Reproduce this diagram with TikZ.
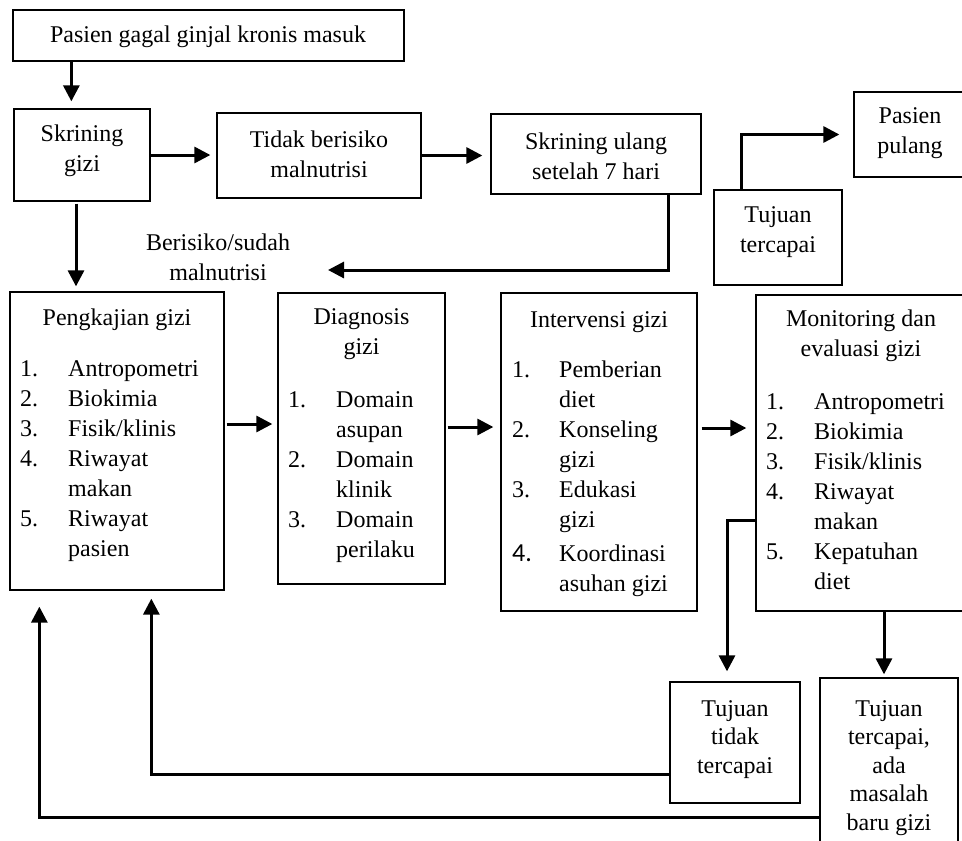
\documentclass[tikz,border=0pt]{standalone}
\usepackage{fontspec}
\setmainfont{Liberation Serif}
\newfontfamily\carl{Carlito}
\usetikzlibrary{arrows.meta}
\tikzset{
  box/.style={draw, line width=1.3pt, inner sep=0pt, rectangle},
  txt/.style={inner sep=0pt, align=center, font=\fontsize{24}{30}\selectfont},
  txtb/.style={inner sep=0pt, align=center, font=\fontsize{24}{28.5}\selectfont},
  lst/.style={inner sep=0pt, anchor=base west, font=\fontsize{24}{30}\selectfont},
  arr/.style={line width=3pt, -{Triangle[length=16pt,width=16pt]}},
}
\begin{document}
\begin{tikzpicture}[x=1pt,y=-1pt]
\useasboundingbox (0,0) rectangle (962,841);
% boxes
\node[box, minimum width=391pt, minimum height=51pt] (top) at (208.5,35.5) {};
\node[box, minimum width=136pt, minimum height=92pt] (skr) at (82,155) {};
\node[box, minimum width=204pt, minimum height=85pt] (tidak) at (319,155.5) {};
\node[box, minimum width=210pt, minimum height=80pt] (ulang) at (596,154) {};
\node[box, minimum width=128pt, minimum height=95pt] (tc) at (778,237.5) {};
\node[box, minimum width=112pt, minimum height=85pt] (pulang) at (910,134.5) {};
\node[box, minimum width=214pt, minimum height=298pt] (peng) at (117,441) {};
\node[box, minimum width=167pt, minimum height=291pt] (diag) at (361.5,438.5) {};
\node[box, minimum width=196pt, minimum height=318pt] (interv) at (599,452) {};
\node[box, minimum width=210pt, minimum height=316pt] (mon) at (861,453) {};
\node[box, minimum width=130pt, minimum height=121pt] (ttc) at (735,742.5) {};
\node[box, minimum width=138pt, minimum height=180pt] (tca) at (889,768) {};
% simple texts
\node[txt] (topt) at (208,37) {Pasien gagal ginjal kronis masuk};
\node[txt] (skrt) at (82,151) {Skrining\\gizi};
\node[txt] (tidakt) at (319,154.5) {Tidak berisiko\\malnutrisi};
\node[txt] (ulangt) at (596,156.5) {Skrining ulang\\setelah 7 hari};
\node[txt] (tct) at (778,232.5) {Tujuan\\tercapai};
\node[txt] (pulangt) at (910,133.5) {Pasien\\pulang};
\node[txt] (risk) at (218,257) {Berisiko/sudah\\malnutrisi};
\node[txtb] (ttct) at (735,739.5) {Tujuan\\tidak\\tercapai};
\node[txtb] (tcat) at (889,768) {Tujuan\\tercapai,\\ada\\masalah\\baru gizi};
% titles
\node[lst, anchor=base] (pengh) at (117,325) {Pengkajian gizi};
\node[txt, anchor=north] (diagh) at (361.5,308) {Diagnosis\\gizi};
\node[lst, anchor=base] (intervh) at (599,327) {Intervensi gizi};
\node[txt, anchor=north] (monh) at (861,310) {Monitoring dan\\evaluasi gizi};
% lists
\node[lst] (pengl) at (20,376) {\begin{tabular}[t]{@{}p{48pt}@{}l@{}}
1. & Antropometri\\ 2. & Biokimia\\ 3. & Fisik/klinis\\ 4. & Riwayat\\ & makan\\ 5. & Riwayat\\ & pasien
\end{tabular}};
\node[lst] (diagl) at (288,407) {\begin{tabular}[t]{@{}p{48pt}@{}l@{}}
1. & Domain\\ & asupan\\ 2. & Domain\\ & klinik\\ 3. & Domain\\ & perilaku
\end{tabular}};
\node[lst] (intervl) at (512,377) {\begin{tabular}[t]{@{}p{47pt}@{}l@{}}
1. & Pemberian\\ & diet\\ 2. & Konseling\\ & gizi\\ 3. & Edukasi\\ & gizi\\[4pt] {\carl\fontsize{26}{30}\selectfont 4.} & Koordinasi\\ & asuhan gizi
\end{tabular}};
\node[lst] (monl) at (766,409) {\begin{tabular}[t]{@{}p{48pt}@{}l@{}}
1. & Antropometri\\ 2. & Biokimia\\ 3. & Fisik/klinis\\ 4. & Riwayat\\ & makan\\ 5. & Kepatuhan\\ & diet
\end{tabular}};
% helper coordinates
\coordinate (tip4) at (328,270);
\coordinate (x76) at (76,0);
\coordinate (y424) at (0,424);
\coordinate (y427) at (0,427);
\coordinate (y428) at (0,428);
\coordinate (y520) at (0,520);
\coordinate (x727) at (727,0);
\coordinate (x884) at (884,0);
\coordinate (y774) at (0,774);
\coordinate (y817) at (0,817);
% connectors
\draw[arr, shorten >=7pt] ([xshift=59pt]top.south west) -- ([xshift=58pt]skr.north west);
\draw[arr, shorten >=6pt] (skr.east) -- (skr.east -| tidak.west);
\draw[arr, shorten >=8pt] (tidak.east) -- (tidak.east -| ulang.west);
\draw[arr] ([xshift=-33pt]ulang.south east) |- (tip4);
\draw[arr, shorten >=5pt, shorten <=2pt] (skr.south -| x76) -- (peng.north -| x76);
\draw[arr, shorten >=14pt] ([xshift=28pt]tc.north west) |- (pulang.west);
\draw[arr, shorten >=5pt, shorten <=2pt] (peng.east |- y424) -- (diag.west |- y424);
\draw[arr, shorten >=7pt, shorten <=2pt] (diag.east |- y427) -- (interv.west |- y427);
\draw[arr, shorten >=9pt, shorten <=4pt] (interv.east |- y428) -- (mon.west |- y428);
\draw[arr, shorten >=10pt] (mon.west |- y520) -| (ttc.north -| x727);
\draw[arr, shorten >=3pt] (mon.south -| x884) -- (tca.north -| x884);
\draw[arr, shorten >=8pt] (ttc.west |- y774) -| ([xshift=142pt]peng.south west);
\draw[arr, shorten >=16pt] (tca.west |- y817) -| ([xshift=30pt]peng.south west);
\end{tikzpicture}
\end{document}
